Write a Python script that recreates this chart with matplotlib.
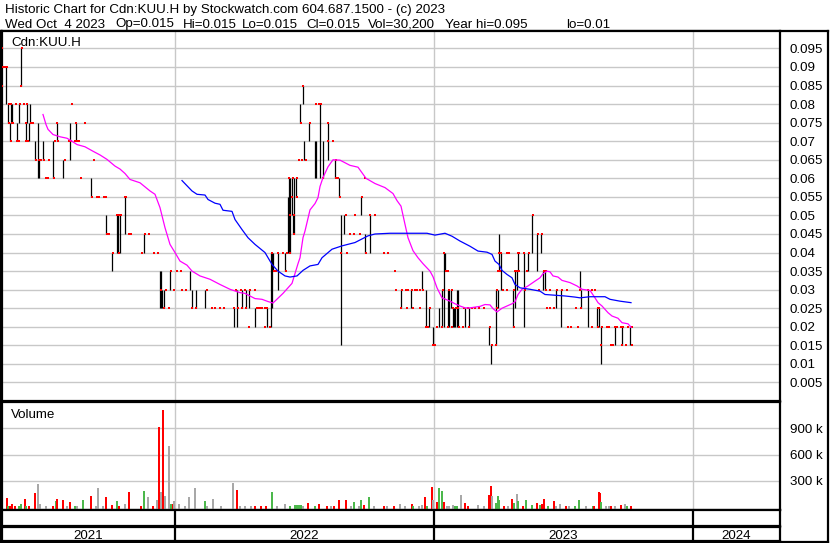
import matplotlib
matplotlib.use("Agg")
import matplotlib.pyplot as plt

plt.rcParams["font.family"] = ["Liberation Sans", "DejaVu Sans"]

# 数据: 交易日序号 (session), 价格, 成交量
# price bars: (session, high, low)
bars = [
    (6, .09, .08), (8, .08, .075), (10, .075, .07), (11, .08, .075), (12, .08, .075),
    (17, .075, .07), (19, .08, .075), (21, .095, .085), (26, .075, .07), (27, .08, .075),
    (29, .075, .07), (30, .08, .075), (35, .07, .065), (38, .075, .06), (39, .065, .06),
    (43, .07, .065), (53, .07, .06), (57, .075, .07), (63, .065, .06), (70, .075, .065),
    (76, .075, .07), (91, .06, .055), (106, .05, .045), (112, .04, .035), (117, .05, .04),
    (118, .05, .04), (120, .05, .04), (125, .055, .045),
    (144, .045, .04), (160, .035, .025), (161, .035, .025), (162, .03, .025), (164, .03, .025),
    (170, .035, .03), (190, .035, .03), (192, .03, .025), (196, .03, .025), (205, .03, .025),
    (234, .025, .02), (237, .03, .02), (242, .03, .025), (246, .03, .025), (249, .03, .025),
    (255, .025, .02),
    (267, .025, .02), (271, .04, .02), (272, .04, .025), (273, .04, .035), (278, .04, .03),
    (285, .04, .035), (288, .055, .04), (289, .06, .04), (290, .06, .04), (292, .06, .05),
    (293, .05, .045), (294, .06, .045), (296, .06, .055), (300, .08, .075), (303, .085, .08),
    (304, .07, .065), (309, .075, .07), (315, .07, .06), (316, .07, .06), (320, .08, .06),
    (323, .07, .06), (328, .075, .065), (335, .065, .06), (339, .06, .055), (341, .05, .015),
    (344, .05, .045), (361, .055, .05), (365, .045, .04), (370, .05, .04),
    (401, .03, .025), (411, .03, .025), (422, .035, .03), (426, .03, .02), (429, .025, .02),
    (433, .02, .015), (439, .025, .02), (442, .03, .02), (444, .04, .02), (445, .04, .035),
    (448, .03, .02), (449, .03, .02), (451, .03, .025), (453, .025, .02), (454, .025, .02),
    (455, .025, .02), (457, .03, .02), (458, .03, .02), (465, .025, .02), (469, .025, .02),
    (489, .02, .015), (491, .015, .01), (496, .03, .015), (498, .03, .025), (499, .045, .035),
    (501, .04, .03), (513, .03, .02), (515, .035, .025), (517, .035, .03), (518, .04, .035),
    (524, .04, .02), (528, .04, .035), (532, .05, .04), (537, .045, .035), (541, .045, .04),
    (543, .035, .03), (545, .035, .03), (556, .03, .025), (561, .03, .02), (580, .035, .03),
    (581, .03, .025), (588, .03, .02), (597, .025, .02), (599, .025, .02), (601, .02, .01),
    (615, .02, .015), (622, .02, .015), (630, .02, .015),
]

# open/close ticks and no-trade days: (session, price)
marks = [
    (2, .095), (22, .095), (3, .09), (5, .09), (7, .09), (2, .085), (21, .085),
    (9, .08), (11, .08), (16, .08), (20, .08), (24, .08), (27, .08), (72, .08),
    (9, .075), (12, .075), (13, .075), (26, .075), (31, .075), (33, .075), (57, .075),
    (76, .075), (85, .075),
    (11, .07), (17, .07), (19, .07), (26, .07), (28, .07), (55, .07), (58, .07), (69, .07),
    (71, .07), (75, .07), (77, .07), (79, .07),
    (36, .065), (39, .065), (41, .065), (44, .065), (49, .065), (65, .065), (94, .065),
    (46, .06), (48, .06), (54, .06), (81, .06),
    (92, .055), (97, .055), (99, .055), (104, .055), (106, .055), (125, .055), (126, .055),
    (117, .05), (119, .05), (121, .05),
    (107, .045), (109, .045), (129, .045), (131, .045), (145, .045), (149, .045),
    (113, .04), (119, .04), (142, .04), (154, .04), (158, .04),
    (171, .035), (177, .035), (181, .035),
    (161, .03), (166, .03), (174, .03), (182, .03), (186, .03), (207, .03), (236, .03),
    (241, .03), (245, .03), (250, .03), (255, .03),
    (164, .025), (169, .025), (192, .025), (196, .025), (212, .025), (215, .025), (220, .025),
    (224, .025), (234, .025), (238, .025), (242, .025), (246, .025), (257, .025), (260, .025),
    (249, .02),
    (303, .085), (316, .08), (319, .08), (321, .08), (301, .075), (310, .075), (328, .075),
    (328, .07), (333, .07), (299, .065), (302, .065), (306, .065), (336, .065),
    (289, .06), (293, .06), (297, .06), (323, .06), (336, .06), (338, .06), (365, .06),
    (292, .055), (297, .055), (340, .055), (362, .055),
    (290, .05), (294, .05), (346, .05), (355, .05), (370, .05), (375, .05),
    (294, .045), (350, .045), (354, .045), (360, .045),
    (272, .04), (278, .04), (283, .04), (287, .04), (290, .04), (341, .04), (347, .04),
    (366, .04), (384, .04), (388, .04),
    (274, .035), (276, .035), (286, .035),
    (258, .025), (262, .025), (265, .025), (267, .025), (265, .02), (270, .02),
    (444, .04), (499, .04), (501, .04), (507, .04), (509, .04), (519, .04),
    (395, .035), (446, .035), (448, .035), (498, .035), (500, .035), (517, .035), (519, .035),
    (396, .03), (402, .03), (406, .03), (408, .03), (412, .03), (415, .03), (417, .03),
    (420, .03), (423, .03), (443, .03), (449, .03), (452, .03), (497, .03), (503, .03),
    (507, .03), (514, .03),
    (401, .025), (407, .025), (413, .025), (420, .025), (430, .025), (453, .025), (456, .025),
    (458, .025), (464, .025), (468, .025), (472, .025), (475, .025), (479, .025), (484, .025),
    (497, .025),
    (426, .02), (428, .02), (437, .02), (442, .02), (448, .02), (452, .02), (459, .02),
    (463, .02), (469, .02), (490, .02), (514, .02),
    (433, .015), (435, .015), (492, .015), (496, .015),
    (533, .05), (538, .045), (542, .045), (518, .04), (524, .04), (529, .04),
    (515, .035), (518, .035), (527, .035), (544, .035), (546, .035),
    (525, .03), (539, .03), (546, .03), (550, .03), (557, .03), (562, .03), (567, .03),
    (580, .03), (588, .03), (592, .03), (595, .03),
    (547, .025), (550, .025), (554, .025), (576, .025), (581, .025), (598, .025), (599, .025),
    (568, .02), (571, .02), (578, .02), (592, .02), (598, .02), (602, .02), (607, .02),
    (609, .02), (615, .02), (617, .02), (621, .02), (623, .02), (628, .02), (632, .02),
    (601, .015), (611, .015), (613, .015), (622, .015), (626, .015), (632, .015),
]

# moving averages: (session, value)
ma_short = [
    (43, .0772), (46, .0745), (48, .0732), (53, .0718), (60, .0712), (67, .0708),
    (72, .0700), (77, .0691), (85, .0685), (93, .0673), (100, .0663), (107, .0651),
    (115, .0633), (120, .0625), (125, .0613), (130, .0597), (140, .0588), (150, .0566),
    (155, .0557), (160, .0521), (165, .0467), (170, .0422), (175, .0400), (180, .0377),
    (187, .0366), (192, .0350), (200, .0337), (210, .0328), (220, .0314), (230, .0301),
    (240, .0292), (245, .0290), (250, .0283), (255, .0276), (262, .0274), (268, .0268),
    (273, .0264), (283, .0290), (292, .0317), (298, .0370), (300, .0386), (303, .0440),
    (305, .0458), (310, .0515), (315, .0532), (318, .0548), (320, .0578), (323, .0602),
    (328, .0631), (333, .0650), (340, .0649), (350, .0635), (358, .0630), (366, .0600),
    (375, .0586), (385, .0575), (393, .0559), (397, .0540), (401, .0525), (405, .0476),
    (408, .0440), (413, .0405), (418, .0386), (423, .0370), (430, .0350), (433, .0335),
    (437, .0305), (442, .0278), (450, .0269), (455, .0262), (460, .0256), (465, .0251),
    (470, .0251), (480, .0255), (485, .0260), (490, .0259), (493, .0249), (497, .0240),
    (502, .0250), (507, .0256), (512, .0262), (515, .0267), (518, .0287), (522, .0301),
    (528, .0310), (535, .0323), (540, .0332), (543, .0343), (547, .0350), (550, .0348),
    (553, .0337), (558, .0334), (562, .0325), (570, .0319), (577, .0310), (582, .0301),
    (590, .0298), (595, .0278), (598, .0265), (602, .0256), (608, .0238), (612, .0229),
    (618, .0223), (622, .0211), (628, .0208), (631, .0199),
]
ma_long = [
    (182, .0594), (192, .0566), (197, .0557), (205, .0555), (208, .0543), (215, .0533),
    (220, .0530), (223, .0514), (232, .0511), (235, .0489), (242, .0462), (248, .0440),
    (255, .0422), (260, .0411), (265, .0400), (272, .0368), (278, .0350), (285, .0337),
    (290, .0334), (297, .0337), (303, .0352), (310, .0364), (318, .0368), (322, .0386),
    (332, .0409), (342, .0418), (355, .0427), (368, .0445), (375, .0450), (390, .0452),
    (427, .0452), (435, .0447), (445, .0452), (452, .0444), (460, .0431), (470, .0417),
    (478, .0404), (487, .0401), (492, .0395), (495, .0377), (499, .0368), (502, .0352),
    (507, .0341), (512, .0332), (515, .0314), (520, .0305), (530, .0301), (540, .0296),
    (545, .0287), (555, .0285), (565, .0283), (575, .0280), (580, .0278), (590, .0281),
    (605, .0281), (610, .0274), (620, .0269), (631, .0265),
]

# volume: (session, thousands of shares, r=down g=up k=unchanged)
volume = [
    (7, 100, "r"), (8, 8, "g"), (10, 8, "r"), (12, 27, "r"), (15, 12, "r"), (19, 8, "g"),
    (21, 27, "g"), (25, 85, "r"), (26, 12, "g"), (29, 6, "r"), (35, 154, "r"), (38, 258, "k"),
    (40, 27, "k"), (46, 12, "k"), (53, 6, "r"), (56, 62, "g"), (57, 85, "r"), (63, 77, "r"),
    (67, 8, "k"), (70, 50, "r"), (75, 12, "g"), (77, 8, "k"), (83, 77, "g"), (91, 119, "r"),
    (96, 6, "k"), (98, 212, "k"), (103, 6, "k"), (106, 108, "r"), (112, 15, "r"), (117, 62, "g"),
    (119, 12, "r"), (125, 27, "k"), (129, 165, "r"), (141, 6, "r"), (144, 177, "g"),
    (148, 112, "k"), (153, 12, "r"), (157, 73, "k"), (159, 919, "r"), (161, 169, "k"),
    (163, 1110, "r"), (165, 125, "k"), (169, 696, "k"), (171, 27, "g"), (173, 35, "r"),
    (174, 62, "k"), (179, 27, "k"), (185, 8, "k"), (189, 112, "k"), (195, 212, "k"),
    (205, 62, "g"), (207, 6, "k"), (213, 88, "k"), (221, 12, "k"), (233, 269, "k"),
    (237, 188, "r"), (240, 6, "k"), (245, 8, "k"), (251, 6, "k"), (255, 12, "r"), (261, 6, "r"),
    (266, 6, "r"), (272, 165, "g"), (277, 6, "k"), (285, 27, "k"), (290, 6, "g"), (295, 20, "g"),
    (297, 25, "g"), (299, 25, "g"), (301, 25, "g"), (303, 12, "k"), (308, 38, "r"), (315, 6, "g"),
    (319, 27, "r"), (327, 8, "r"), (331, 6, "k"), (334, 12, "r"), (339, 73, "r"), (346, 73, "r"),
    (351, 6, "k"), (354, 54, "g"), (359, 12, "k"), (361, 73, "g"), (364, 15, "r"),
    (369, 108, "g"), (374, 6, "k"), (384, 12, "r"), (387, 12, "k"), (394, 6, "r"),
    (400, 27, "k"), (405, 6, "k"), (412, 27, "r"), (413, 12, "g"), (419, 6, "k"), (422, 15, "k"),
    (425, 108, "r"), (427, 6, "g"), (432, 223, "r"), (433, 73, "k"), (437, 50, "r"),
    (439, 212, "g"), (442, 181, "g"), (444, 50, "r"), (447, 6, "k"), (449, 12, "k"),
    (453, 15, "k"), (455, 12, "g"), (457, 12, "g"), (461, 131, "k"), (465, 38, "r"),
    (468, 6, "r"), (478, 15, "k"), (484, 6, "k"), (489, 135, "r"), (491, 235, "r"),
    (492, 119, "k"), (496, 38, "g"), (498, 119, "g"), (499, 80, "g"), (504, 6, "r"),
    (508, 6, "k"), (512, 85, "r"), (514, 38, "g"), (517, 142, "k"), (518, 62, "g"),
    (523, 12, "r"), (526, 73, "g"), (532, 15, "g"), (537, 38, "r"), (540, 15, "g"),
    (542, 27, "r"), (544, 85, "r"), (548, 6, "g"), (554, 62, "r"), (556, 12, "k"),
    (560, 27, "k"), (566, 8, "r"), (569, 6, "k"), (575, 6, "g"), (579, 73, "g"), (586, 6, "k"),
    (593, 6, "g"), (594, 6, "r"), (599, 165, "r"), (600, 154, "r"), (601, 54, "g"),
    (606, 6, "k"), (609, 12, "k"), (611, 8, "r"), (615, 6, "k"), (621, 15, "r"), (625, 27, "k"),
    (627, 6, "g"), (631, 12, "r"),
]

years = ["2021", "2022", "2023", "2024"]
year_start = [175, 434, 693]  # first session of 2022, 2023, 2024
session_range = (2, 780)

header1 = "Historic Chart for Cdn:KUU.H by Stockwatch.com 604.687.1500 - (c) 2023"
header2 = ["Wed Oct  4 2023", "Op=0.015", "Hi=0.015", "Lo=0.015", "Cl=0.015",
           "Vol=30,200", "Year hi=0.095", "lo=0.01"]

# ---------------------------------------------------------------
W, H = 830, 543
fig = plt.figure(figsize=(W / 100, H / 100), dpi=100)
FS = 9.6
GRID = "#c8c8c8"
vol_colors = {"r": "#ff0000", "g": "#4cb84c", "k": "#a8a8a8"}


def box(l, t, r, b):
    return [l / W, 1 - b / H, (r - l) / W, (b - t) / H]


def frame(ax, lw=1.6):
    for s in ax.spines.values():
        s.set_linewidth(lw)
        s.set_color("black")


# header
fig.text(5 / W, 1 - 13.5 / H, header1, fontsize=FS, va="baseline")
for xpos, s in zip([5, 115, 183, 242, 306, 368, 445, 566], header2):
    fig.text(xpos / W, 1 - 27.5 / H, s, fontsize=FS, va="baseline")

# outer frame (right label column)
outer = fig.add_axes(box(1, 31, 828, 542))
outer.set_xticks([])
outer.set_yticks([])
outer.patch.set_alpha(0)
frame(outer)

# price panel
ax = fig.add_axes(box(2, 31, 780, 401))
ax.set_xlim(*session_range)
ax.set_ylim(0, 0.0997)
pticks = [i / 1000 for i in range(5, 100, 5)]
ax.set_yticks(pticks)
ax.set_yticklabels([f"{t:g}" for t in pticks])
ax.yaxis.tick_right()
ax.set_xticks(year_start)
ax.tick_params(axis="y", length=0, pad=7, labelsize=FS)
ax.tick_params(axis="x", length=0, labelbottom=False)
ax.grid(True, color=GRID, lw=1)
ax.set_axisbelow(True)
frame(ax)

bx, bh, bl = zip(*bars)
ax.vlines(bx, bl, bh, color="black", lw=0.9, zorder=3)
mx, mp = zip(*marks)
ax.plot(mx, mp, ls="none", marker="s", ms=2.0, mew=0, color="#ff0000", zorder=4)
sx, sv = zip(*ma_short)
ax.plot(sx, sv, color="#ff00ff", lw=0.9, zorder=5)
lx, lv = zip(*ma_long)
ax.plot(lx, lv, color="#0000ff", lw=0.9, zorder=5)
ax.text(9 / 778, 1 - 15 / 370, "Cdn:KUU.H", transform=ax.transAxes, fontsize=FS,
        va="baseline")

# volume panel
av = fig.add_axes(box(2, 402, 780, 509.5))
av.set_xlim(*session_range)
vmin = -31
av.set_ylim(vmin, 1203)
av.set_yticks([300, 600, 900])
av.set_yticklabels(["300 k", "600 k", "900 k"])
av.yaxis.tick_right()
av.set_xticks(year_start)
av.tick_params(axis="y", length=0, pad=7, labelsize=FS)
av.tick_params(axis="x", length=0, labelbottom=False)
av.grid(True, color=GRID, lw=1)
av.set_axisbelow(True)
frame(av)
vx, vv, vc = zip(*volume)
av.bar(vx, [v - vmin for v in vv], bottom=vmin, width=1.6,
       color=[vol_colors[c] for c in vc], zorder=3)
av.text(9 / 778, 1 - 16 / 107.5, "Volume", transform=av.transAxes, fontsize=FS,
        va="baseline")

# blank band and year band
for t, b, labels in [(510, 526, False), (527, 541, True)]:
    ab = fig.add_axes(box(2, t, 780, b))
    ab.set_xlim(*session_range)
    ab.set_ylim(0, 1)
    ab.set_xticks([])
    ab.set_yticks([])
    frame(ab)
    for xs in year_start:
        ab.axvline(xs, color="black", lw=1.6)
    if labels:
        edges = [session_range[0]] + year_start + [session_range[1]]
        for i, yr in enumerate(years):
            ab.text((edges[i] + edges[i + 1]) / 2, 0.12, yr, ha="center",
                    va="baseline", fontsize=FS)

fig.savefig("out.png", dpi=100)
